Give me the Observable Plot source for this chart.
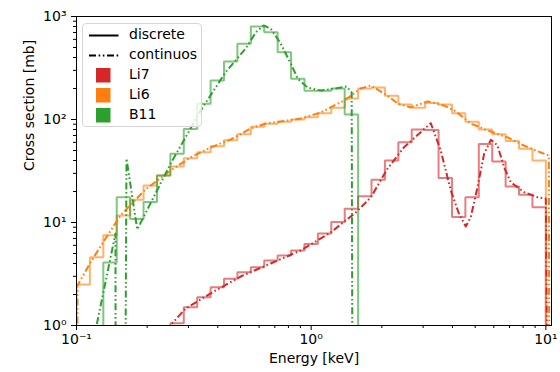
<!DOCTYPE html>
<html>
<head>
<meta charset="utf-8">
<script src="https://cdn.jsdelivr.net/npm/d3@7"></script>
<script src="https://cdn.jsdelivr.net/npm/@observablehq/plot@0.6"></script>
<style>
  body { margin: 0; background: #fff; }
  #wrap { position: relative; width: 560px; height: 372px; font-family: "DejaVu Sans", sans-serif; }
  #legend { position: absolute; left: 82px; top: 23px; width: 120px; height: 104px;
    border: 1px solid #d6d6d6; border-radius: 4px; background: rgba(255,255,255,0.8);
    box-sizing: border-box; font-size: 14px; color: #000; }
  #legend .row { position: absolute; left: 0; height: 20px; width: 118px; }
  #legend svg { position: absolute; left: 5px; top: 0; }
  #legend span { position: absolute; left: 46px; top: 1px; line-height: 17px; }
</style>
</head>
<body>
<div id="wrap"></div>
<script>
// ---------- data ----------
const seriesNames = ["Li7", "Li6", "B11"];
const seriesColors = ["#d62728", "#ff7f0e", "#2ca02c"];
const styleLabels = ["discrete", "continuos"];
const xLabel = "Energy [keV]";
const yLabel = "Cross section [mb]";
const xTicks = [0.1, 1, 10];
const yTicks = [1, 10, 100, 1000];
const xMinorTicks = [0.2,0.3,0.4,0.5,0.6,0.7,0.8,0.9,2,3,4,5,6,7,8,9];
const yMinorTicks = [2,3,4,5,6,7,8,9,20,30,40,50,60,70,80,90,200,300,400,500,600,700,800,900];

// histogram bin edges (keV)
const binEdges = [0.1, 0.11406, 0.13010, 0.14840, 0.16927, 0.19307, 0.22022, 0.25119, 0.28651,
  0.32680, 0.37276, 0.42518, 0.48497, 0.55317, 0.63096, 0.71969, 0.82089, 0.93633, 1.06800,
  1.21818, 1.38950, 1.58489, 1.80777, 2.06199, 2.35195, 2.68270, 3.05995, 3.49025, 3.98107,
  4.54091, 5.17947, 5.90784, 6.73863, 7.68625, 8.76712, 10.0];

// discrete (binned) cross sections, mb
const li7Hist = [0, 0, 0, 0, 0, 0, 0, 1.05, 1.5, 1.88, 2.35, 2.84, 3.29, 3.68, 4.27, 4.78, 5.34,
  6.2, 7.8, 10.1, 13.6, 18, 26, 40, 60, 80, 79, 27, 11.3, 17.6, 57.7, 39, 22.4, 18.6, 14.1];
const li6Hist = [2.5, 4.6, 7.5, 11.7, 16.6, 22.9, 28.6, 35, 42, 48, 55, 63, 72, 85, 91, 95, 100,
  105, 115, 130, 160, 200, 205, 170, 140, 130, 145, 140, 115, 95, 80, 72, 62, 52, 40];
const b11Hist = [0, 0, 4.1, 17.6, 10.8, 15.8, 28.6, 46.5, 81, 142, 239, 365, 543, 800, 705, 450,
  248, 190, 190, 200, 112, 0, 0, 0, 0, 0, 0, 0, 0, 0, 0, 0, 0, 0, 0];

// continuous cross sections: energies (keV) and values (mb)
const li7E  = [0.2395, 0.2916, 0.373, 0.5005, 0.672, 0.902, 1.211, 1.548, 1.794, 2.11, 2.487, 2.93,
  3.234, 3.566, 3.935, 4.268, 4.558, 4.789, 5.113, 5.457, 5.83, 6.224, 6.64, 7.09, 8.08, 9.22, 10.0, 10.4];
const li7XS = [0.89, 1.46, 2.05, 2.99, 4.0, 5.35, 8.0, 12.5, 17.5, 33, 53.8, 75.3,
  92, 50, 20.5, 12.1, 9.15, 11.3, 22, 46.4, 63.5, 55.9, 34.4, 24.6, 19.7, 17.6, 17.0, 0];
const li6E  = [0.1, 0.101, 0.1147, 0.133, 0.154, 0.197, 0.252, 0.306, 0.373, 0.454, 0.552, 0.640,
  0.794, 0.902, 1.098, 1.403, 1.626, 1.794, 2.078, 2.338, 2.657, 3.14, 3.673, 4.132, 4.789, 5.657,
  6.887, 8.058, 9.52, 10.3, 10.4];
const li6XS = [0, 2.45, 4.09, 7.0, 11.7, 21, 32, 42.8, 53.5, 64, 81.8, 91.4,
  97.8, 102, 117, 156, 200, 214, 175, 143, 131, 150, 137, 120, 91.4, 78.2,
  66.9, 55.9, 47.8, 44.7, 0];
const b11E  = [0.1137, 0.1466, 0.1472, 0.1588, 0.1633, 0.1815, 0.252, 0.338, 0.432, 0.526, 0.580,
  0.627, 0.672, 0.741, 0.818, 0.876, 0.966, 1.098, 1.272, 1.417, 1.488, 1.511];
const b11XS = [0.47, 7.8, 0, 0, 41.7, 8.55, 37.4, 122, 288, 489, 699,
  818, 765, 547, 350, 250, 204, 191, 200, 209, 183, 0];

// ---------- tables ----------
const FLOOR = 1e-4; // zero values fall below the log axis
const hists = [li7Hist, li6Hist, b11Hist];
const conts = [[li7E, li7XS], [li6E, li6XS], [b11E, b11XS]];

const stepRows = [];
seriesNames.forEach((s, i) => {
  const h = hists[i];
  stepRows.push({series: s, e: binEdges[0], v: FLOOR});
  h.forEach((v, k) => stepRows.push({series: s, e: binEdges[k], v: v > 0 ? v : FLOOR}));
  stepRows.push({series: s, e: binEdges[binEdges.length - 1], v: FLOOR});
});
const contRows = [];
seriesNames.forEach((s, i) => {
  const [E, XS] = conts[i];
  E.forEach((e, k) => contRows.push({series: s, e, v: XS[k] > 0 ? XS[k] : FLOOR}));
});

const supMap = {"-": "\u207B", "0": "\u2070", "1": "\u00B9", "2": "\u00B2", "3": "\u00B3"};
const powFmt = d => "10" + String(Math.round(Math.log10(d))).split("").map(c => supMap[c]).join("");
const DASH = "7,2.6,1.6,2.6,1.6,2.6";

const chart = Plot.plot({
  width: 560,
  height: 372,
  marginLeft: 76,
  marginRight: 9,
  marginTop: 16,
  marginBottom: 47,
  style: {fontFamily: "DejaVu Sans, sans-serif", fontSize: "14px", color: "#000", background: "#fff"},
  x: {type: "log", domain: [0.1, 10.57], label: null},
  y: {type: "log", domain: [1, 1000], label: null},
  color: {domain: seriesNames, range: seriesColors},
  marks: [
    Plot.line(stepRows, {x: "e", y: "v", z: "series", stroke: "series", strokeWidth: 2,
      strokeOpacity: 0.6, curve: "step-after", strokeLinejoin: "miter", clip: true}),
    Plot.line(contRows, {x: "e", y: "v", z: "series", stroke: "series", strokeWidth: 2,
      strokeDasharray: DASH, strokeLinecap: "butt", clip: true}),
    Plot.axisX({ticks: xMinorTicks, tickSize: 3, tickFormat: () => "", label: null}),
    Plot.axisX({ticks: xTicks, tickSize: 5, tickPadding: 4, tickFormat: powFmt, label: null, fontSize: 14}),
    Plot.axisY({ticks: yMinorTicks, tickSize: 3, tickFormat: () => "", label: null}),
    Plot.axisY({ticks: yTicks, tickSize: 5, tickPadding: 5, tickFormat: powFmt, label: null, fontSize: 14}),
    Plot.frame({stroke: "#000", strokeWidth: 1}),
    Plot.text([xLabel], {text: d => d, frameAnchor: "bottom", dy: 37, fontSize: 14}),
    Plot.text([yLabel], {text: d => d, frameAnchor: "left", dx: -47, rotate: -90, fontSize: 14})
  ]
});
const wrap = document.getElementById("wrap");
wrap.appendChild(chart);

// ---------- legend ----------
const legend = d3.select(wrap).append("div").attr("id", "legend");
const legendRows = [
  {label: styleLabels[0], kind: "solid", color: "#000"},
  {label: styleLabels[1], kind: "dash", color: "#000"},
  ...seriesNames.map((s, i) => ({label: s, kind: "patch", color: seriesColors[i]}))
];
legendRows.forEach((r, i) => {
  const row = legend.append("div").attr("class", "row").style("top", (1 + 20 * i) + "px");
  const svg = row.append("svg").attr("width", 32).attr("height", 20);
  if (r.kind === "patch") {
    svg.append("rect").attr("x", 8).attr("y", 3).attr("width", 14.5).attr("height", 14.5).attr("fill", r.color);
  } else {
    svg.append("line").attr("x1", 1).attr("x2", 30.5).attr("y1", 10.5).attr("y2", 10.5)
      .attr("stroke", r.color).attr("stroke-width", 2)
      .attr("stroke-dasharray", r.kind === "dash" ? DASH : null);
  }
  row.append("span").text(r.label);
});
</script>
</body>
</html>
